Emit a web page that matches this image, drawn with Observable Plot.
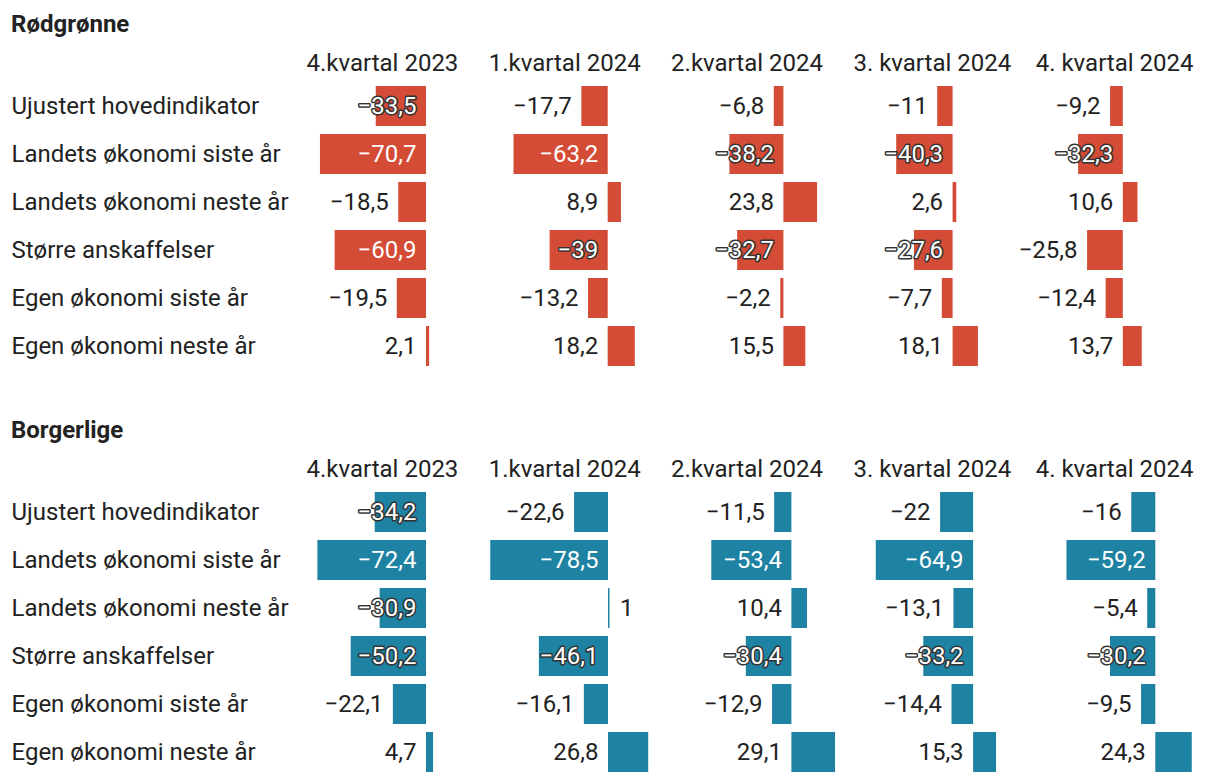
<!DOCTYPE html>
<html>
<head>
<meta charset="utf-8">
<script src="https://cdn.jsdelivr.net/npm/d3@7"></script>
<script src="https://cdn.jsdelivr.net/npm/@observablehq/plot@0.6"></script>
<style>
  html, body { margin: 0; padding: 0; background: #fff; }
  #root { position: relative; width: 1220px; height: 782px; font-family: Roboto, sans-serif; color: #222; overflow: hidden; }
  .abs { position: absolute; }
  .title { font-size: 24px; font-weight: 700; line-height: 1; white-space: nowrap; }
  .head { font-size: 24px; font-weight: 400; line-height: 1; white-space: nowrap; }
</style>
</head>
<body>
<div id="root"></div>
<script>
// ---------- data ----------
const groups = ["Rødgrønne", "Borgerlige"];
const quarters = ["4.kvartal 2023", "1.kvartal 2024", "2.kvartal 2024", "3. kvartal 2024", "4. kvartal 2024"];
const indicators = [
  "Ujustert hovedindikator",
  "Landets økonomi siste år",
  "Landets økonomi neste år",
  "Større anskaffelser",
  "Egen økonomi siste år",
  "Egen økonomi neste år"
];
// values per quarter (same order as indicators)
const rodgronne = [
  [-33.5, -70.7, -18.5, -60.9, -19.5, 2.1],
  [-17.7, -63.2, 8.9, -39, -13.2, 18.2],
  [-6.8, -38.2, 23.8, -32.7, -2.2, 15.5],
  [-11, -40.3, 2.6, -27.6, -7.7, 18.1],
  [-9.2, -32.3, 10.6, -25.8, -12.4, 13.7]
];
const borgerlige = [
  [-34.2, -72.4, -30.9, -50.2, -22.1, 4.7],
  [-22.6, -78.5, 1, -46.1, -16.1, 26.8],
  [-11.5, -53.4, 10.4, -30.4, -12.9, 29.1],
  [-22, -64.9, -13.1, -33.2, -14.4, 15.3],
  [-16, -59.2, -5.4, -30.2, -9.5, 24.3]
];
const groupValues = [rodgronne, borgerlige];

// ---------- layout / style ----------
const colors = ["#d54c36", "#1e82a2"];
const textColor = "#222";
const panelTop = [0, 406];
const colLeft0 = 306, colStep = 182.3, colW = 182;
// zero position and pixels-per-unit of each column's bar scale
const zeroPx = [[426, 608, 783, 952.5, 1123], [426, 608.3, 791, 973, 1155.5]];
const pxPerUnit = [[1.5, 1.49, 1.414, 1.40, 1.385], [1.5, 1.5, 1.5, 1.5, 1.5]];
const rowsTop = 78, rowsH = 296;

const fmt = v => (v < 0 ? "\u2212" : "") + String(Math.abs(v)).replace(".", ",");
function labelType(v) {
  if (v < -52) return "inside";
  if (v < -26.5) return "halo";
  if (v < 0) return "outside";
  if (v < 2) return "right";
  return "left";
}

const root = document.getElementById("root");
function addDiv(cls, text, left, top) {
  const d = document.createElement("div");
  d.className = "abs " + cls;
  d.textContent = text;
  d.style.left = left + "px";
  d.style.top = top + "px";
  root.appendChild(d);
  return d;
}
function addNode(node, left, top) {
  const w = document.createElement("div");
  w.className = "abs";
  w.style.left = left + "px";
  w.style.top = top + "px";
  w.appendChild(node);
  root.appendChild(w);
}

const yOpts = {type: "band", domain: indicators, padding: 1 / 6, align: 0.5, round: false, axis: null};
const svgStyle = {fontFamily: "Roboto, sans-serif", background: "transparent", overflow: "visible"};

groups.forEach((g, gi) => {
  const top = panelTop[gi];
  addDiv("title", g, 11, top + 12);

  // row labels
  const labels = Plot.plot({
    width: 300, height: rowsH,
    margin: 0,
    style: svgStyle,
    y: yOpts,
    marks: [
      Plot.text(indicators, {y: d => d, frameAnchor: "left", dx: 11, textAnchor: "start",
        fontSize: 24, fill: textColor})
    ]
  });
  addNode(labels, 0, top + rowsTop);

  quarters.forEach((q, qi) => {
    const left = colLeft0 + colStep * qi;
    addDiv("head", q, left + 0.5, top + 50.5);

    const rows = indicators.map((ind, i) => {
      const v = groupValues[gi][qi][i];
      return {indicator: ind, value: v, type: labelType(v), label: fmt(v)};
    });
    const zx = zeroPx[gi][qi] - left;
    const s = pxPerUnit[gi][qi];
    const chart = Plot.plot({
      width: colW, height: rowsH,
      margin: 0,
      style: svgStyle,
      x: {domain: [-zx / s, (colW - zx) / s], range: [0, colW], axis: null},
      y: yOpts,
      marks: [
        Plot.barX(rows, {x1: () => 0, x2: "value", y: "indicator", fill: colors[gi]}),
        Plot.text(rows.filter(d => d.type === "outside" || d.type === "left"), {
          x: d => d.type === "outside" ? d.value : 0, y: "indicator", text: "label",
          dx: -10, textAnchor: "end", fontSize: 24, fill: textColor
        }),
        Plot.text(rows.filter(d => d.type === "right"), {
          x: "value", y: "indicator", text: "label",
          dx: 10, textAnchor: "start", fontSize: 24, fill: textColor
        }),
        Plot.text(rows.filter(d => d.type === "inside"), {
          x: () => 0, y: "indicator", text: "label",
          dx: -10, textAnchor: "end", fontSize: 24, fill: "white"
        }),
        Plot.text(rows.filter(d => d.type === "halo"), {
          x: () => 0, y: "indicator", text: "label",
          dx: -10, textAnchor: "end", fontSize: 24, fill: "white",
          stroke: "#333", strokeWidth: 3
        })
      ]
    });
    addNode(chart, left, top + rowsTop);
  });
});
</script>
</body>
</html>
